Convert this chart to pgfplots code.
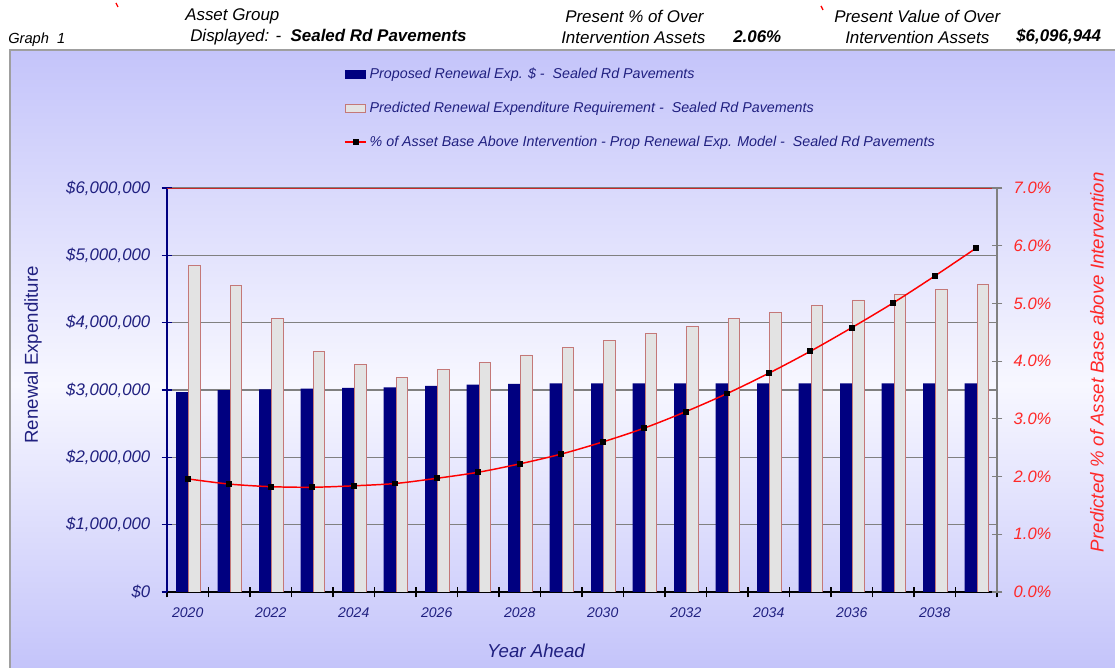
\documentclass[border=0pt]{standalone}
\usepackage{fontspec}
\setmainfont{Liberation Sans}
\usepackage{pgfplots}
\pgfplotsset{compat=1.18}
\usepackage{pgfplotstable}
\definecolor{navyb}{RGB}{0,0,128}
\definecolor{navyt}{RGB}{32,32,128}
\definecolor{grayfill}{RGB}{227,227,227}
\definecolor{grayedge}{RGB}{196,120,120}
\definecolor{gridc}{RGB}{128,128,128}
\definecolor{bgedge}{RGB}{196,196,250}
\definecolor{bgmid}{RGB}{247,247,255}
\definecolor{redl}{RGB}{255,0,0}
\definecolor{redt}{RGB}{255,40,40}
\definecolor{topred}{RGB}{200,40,40}

\pgfplotstableread{
x prop req pct
0 2970000 4850000 1.96
1 3000000 4550000 1.87
2 3010000 4065000 1.825
3 3020000 3570000 1.815
4 3030000 3375000 1.84
5 3040000 3190000 1.88
6 3060000 3300000 1.97
7 3080000 3405000 2.075
8 3090000 3520000 2.22
9 3100000 3630000 2.39
10 3100000 3738000 2.60
11 3100000 3840000 2.84
12 3100000 3946000 3.125
13 3100000 4065000 3.44
14 3100000 4158000 3.79
15 3100000 4257000 4.17
16 3100000 4337000 4.58
17 3100000 4420000 5.01
18 3100000 4495000 5.475
19 3100000 4570000 5.96
}\datatable

\pgfplotsset{
  mybarlegend/.style={legend image code/.code={\draw[##1] (0pt,-3pt) rectangle (15pt,3pt);}},
  mylinelegend/.style={legend image code/.code={\draw[mark repeat=2,mark phase=2,##1] plot coordinates {(0pt,0pt) (8pt,0pt) (16pt,0pt)};}},
}

\begin{document}
\begin{tikzpicture}
\begin{scope}[x=0.75pt,y=0.75pt]
\useasboundingbox (0,0) rectangle (1115,668);
\fill[white] (0,0) rectangle (1115,668);
\shade[top color=bgedge, bottom color=bgmid] (10,283) rectangle (1115,618);
\shade[top color=bgmid, bottom color=bgedge] (10,0) rectangle (1115,283.5);
\draw[gray!75, line width=1.5pt] (10,0) -- (10,618) -- (1115,618);
\draw[red, line width=1pt] (116,665) -- (118,661);
\draw[red, line width=1pt] (821,662) -- (823,658);
\begin{scope}[every node/.style={inner sep=0pt, anchor=west, font=\fontsize{12.7}{14}\selectfont\itshape}]
\node[font=\fontsize{11}{12}\selectfont\itshape] at (8,628) {Graph\ \ 1};
\node at (185,652) {Asset Group};
\node at (190,631) {Displayed: -\ \ \textbf{Sealed Rd Pavements}};
\node at (565,652) {Present \% of Over};
\node at (561,631) {Intervention Assets};
\node at (733,631) {\textbf{2.06\%}};
\node at (834,652) {Present Value of Over};
\node at (845,631) {Intervention Assets};
\node at (1016,631) {\textbf{\$6,096,944}};
\end{scope}
\end{scope}

\begin{axis}[
  scale only axis, width=622.5pt, height=303pt,
  at={(125.25pt,57pt)}, anchor=south west,
  xmin=-0.5, xmax=19.5, ymin=0, ymax=6000000,
  axis x line*=bottom, axis y line*=left,
  x axis line style={black, line width=0.9pt},
  y axis line style={navyb, line width=0.9pt},
  xtick={-0.5,0.5,...,19.5}, xticklabels={},
  extra x ticks={0,2,...,18},
  extra x tick labels={2020,2022,2024,2026,2028,2030,2032,2034,2036,2038},
  extra x tick style={major tick length=0pt, tick style={draw=none}},
  ytick={0,1000000,2000000,3000000,4000000,5000000,6000000},
  yticklabels={{\$0},{\$1,000,000},{\$2,000,000},{\$3,000,000},{\$4,000,000},{\$5,000,000},{\$6,000,000}},
  scaled y ticks=false,
  tick align=center, major tick length=8pt,
  xtick style={black, line width=0.9pt},
  ytick style={navyb, line width=0.9pt},
  ymajorgrids, grid style={gridc, line width=0.9pt},
  yticklabel style={font=\fontsize{12.6}{14}\selectfont\itshape, text=navyt, xshift=-5pt},
  xticklabel style={font=\fontsize{10.5}{12}\selectfont\itshape, text=navyt, yshift=-8.5pt},
  ylabel={Renewal Expenditure},
  ylabel style={at={(axis description cs:-0.1615,0.587)}, anchor=center, font=\fontsize{14}{16}\selectfont, text=navyt},
  xlabel={Year Ahead},
  xlabel style={at={(axis description cs:0.4446,-0.146)}, anchor=center, font=\fontsize{14}{16}\selectfont\itshape, text=navyt},
]
\addplot[ybar, bar width=0.306, bar shift=0pt, fill=navyb, draw=none] table[x expr=\thisrow{x}-0.13, y=prop] {\datatable};
\addplot[ybar, bar width=0.272, bar shift=0pt, fill=grayfill, draw=grayedge, line width=0.6pt] table[x expr=\thisrow{x}+0.159, y=req] {\datatable};
\draw[topred, line width=0.7pt] (rel axis cs:0,1) -- (rel axis cs:1,1);
\end{axis}

\begin{axis}[
  scale only axis, width=622.5pt, height=303pt,
  at={(125.25pt,57pt)}, anchor=south west,
  xmin=-0.5, xmax=19.5, ymin=0, ymax=7,
  axis x line=none, axis y line*=right,
  y axis line style={gridc, line width=0.9pt},
  ytick style={gridc, line width=0.9pt},
  ytick={0,1,...,7},
  /pgf/number format/assume math mode=true,
  yticklabel={\pgfmathprintnumber[fixed,fixed zerofill,precision=1]{\tick}\%},
  yticklabel style={font=\fontsize{12.4}{14}\selectfont\itshape, text=redt, xshift=5pt},
  tick align=center, major tick length=8pt,
  ylabel={Predicted \% of Asset Base above Intervention},
  ylabel style={at={(axis description cs:1.1205,0.569)}, anchor=center, font=\fontsize{14}{16}\selectfont\itshape, text=redt},
  legend style={at={(axis description cs:0.2084,1.31)}, anchor=north west, draw=none, fill=none,
    font=\fontsize{10.7}{12}\selectfont\itshape, text=navyt, row sep=12pt, cells={anchor=west}},
  legend cell align=left,
]
\addlegendimage{mybarlegend, fill=navyb, draw=navyb}
\addlegendentry{Proposed Renewal Exp. \$ -\ \ Sealed Rd Pavements}
\addlegendimage{mybarlegend, fill=grayfill, draw=grayedge}
\addlegendentry{Predicted Renewal Expenditure Requirement -\ \ Sealed Rd Pavements}
\addplot[redl, line width=1.1pt, smooth, mark=square*, mark size=1.6pt, mark options={black, fill=black}, mylinelegend] table[x=x, y=pct] {\datatable};
\addlegendentry{\% of Asset Base Above Intervention - Prop Renewal Exp. Model -\ \ Sealed Rd Pavements}
\end{axis}
\end{tikzpicture}
\end{document}
